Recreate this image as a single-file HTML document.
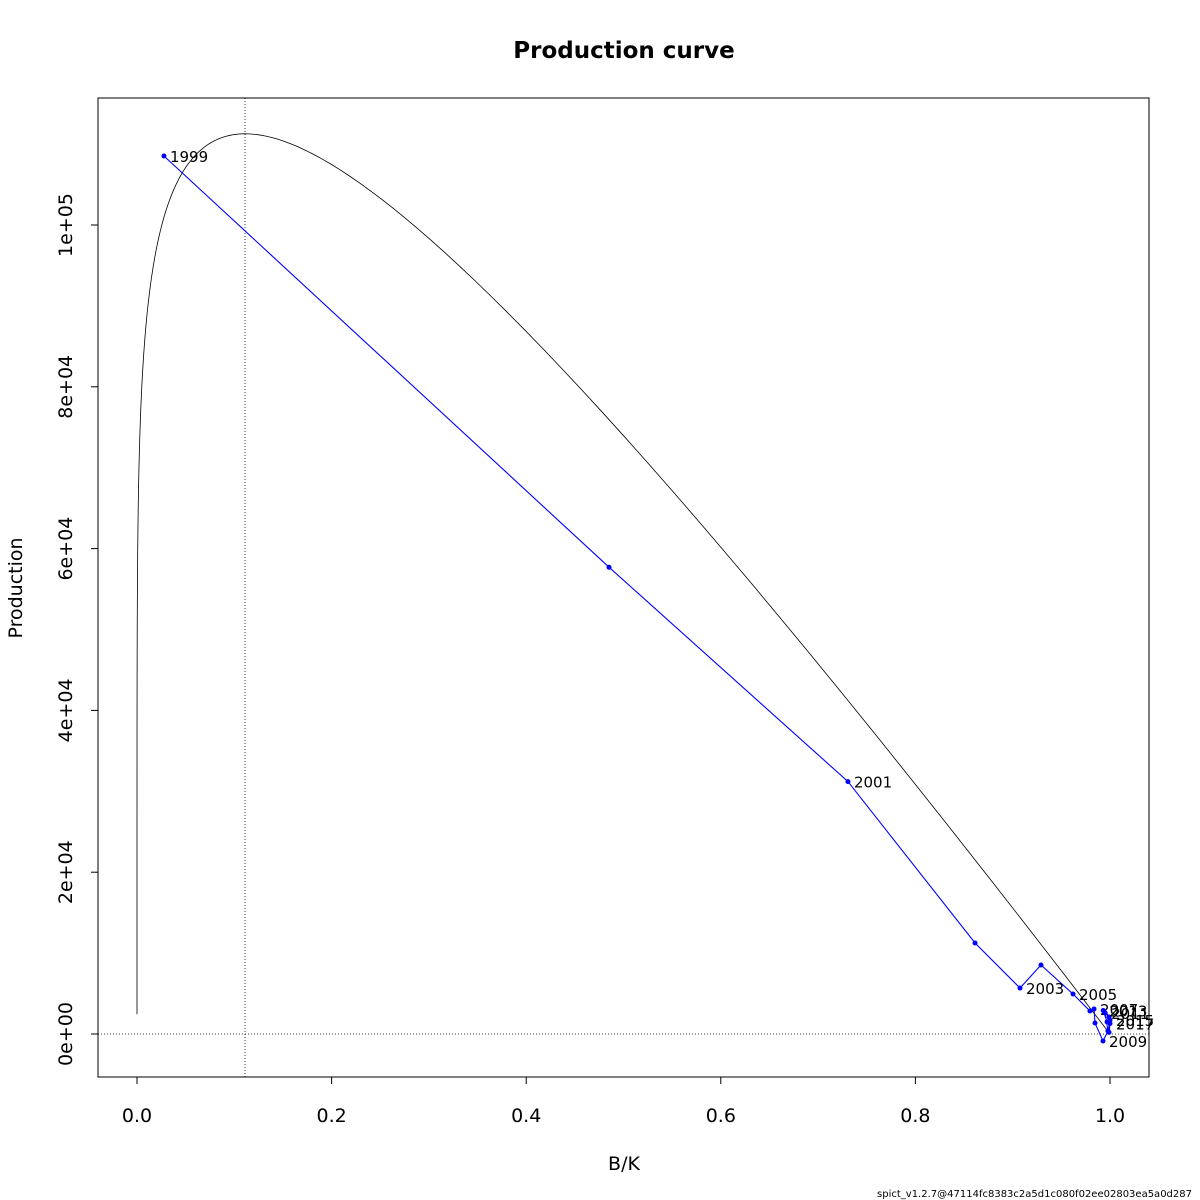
<!DOCTYPE html>
<html><head><meta charset="utf-8"><style>body{margin:0;background:#fff}svg{display:block;font-family:"DejaVu Sans","Liberation Sans",sans-serif}</style></head>
<body>
<svg id="c" width="1200" height="1200">
<text x="624" y="58" text-anchor="middle" font-size="23" font-weight="bold">Production curve</text>
<rect x="98" y="98" width="1051" height="979" fill="none" stroke="#000"/>
<text x="624" y="1170" text-anchor="middle" font-size="19">B/K</text>
<text transform="translate(22,588) rotate(-90)" text-anchor="middle" font-size="19">Production</text>
<text x="1192" y="1197" text-anchor="end" font-size="10">spict_v1.2.7@47114fc8383c2a5d1c080f02ee02803ea5a0d287</text>
<g id="g"></g>
</svg>
<script>
const xTicks=[0,0.2,0.4,0.6,0.8,1.0];
const xTickLabels=["0.0","0.2","0.4","0.6","0.8","1.0"];
const yTicks=[0,20000,40000,60000,80000,100000];
const yTickLabels=["0e+00","2e+04","4e+04","6e+04","8e+04","1e+05"];
const years=[1999,2000,2001,2002,2003,2004,2005,2006,2007,2008,2009,2010,2011,2012,2013,2014,2015,2016,2017,2018];
const bk=[0.0277,0.4851,0.7307,0.8613,0.9075,0.9291,0.9620,0.9794,0.9836,0.9846,0.9928,0.9979,0.995,0.999,0.993,0.997,1.0,0.998,1.0,0.999];
const prod=[108531,57700,31200,11250,5680,8530,4940,2840,3090,1360,-870,370,2600,2100,2900,1500,1700,400,1300,200];
const labelYears=[1999,2001,2003,2005,2007,2009,2011,2013,2015,2017];
const bmsyK=0.111, curveN=0.157, curveC=186350;
const X=v=>137+v*973, Y=v=>1034-v*809e-5;
const g=document.getElementById('g'),NS='http://www.w3.org/2000/svg';
function mk(t,a){const e=document.createElementNS(NS,t);for(const k in a)e.setAttribute(k,a[k]);g.appendChild(e);return e;}
xTicks.forEach((t,i)=>{const l=mk('line',{x1:X(t),x2:X(t),y1:1077,y2:1084,stroke:'#000'});


const s=mk('text',{x:X(t),y:1122,'text-anchor':'middle','font-size':19});s.textContent=xTickLabels[i];

});
yTicks.forEach((t,i)=>{const l=mk('line',{x1:91,x2:98,y1:Y(t),y2:Y(t),stroke:'#000'});


const s=mk('text',{transform:`translate(72,${Y(t)}) rotate(-90)`,'text-anchor':'middle','font-size':19});s.textContent=yTickLabels[i];

});
let h=mk('line',{x1:98,x2:1149,y1:Y(0),y2:Y(0),stroke:'#000','stroke-dasharray':'1,2','stroke-width':0.8});


let v=mk('line',{x1:X(bmsyK),x2:X(bmsyK),y1:98,y2:1077,stroke:'#000','stroke-dasharray':'1,2','stroke-width':0.8});


let pts=[];for(let i=0;i<=400;i++){const x=i===0?1e-12:Math.pow(10,-8+8*i/400);pts.push([x,curveC*(Math.pow(x,curveN)-x)]);}
let c=mk('path',{d:'M'+pts.map(p=>X(p[0]).toFixed(2)+','+Y(p[1]).toFixed(2)).join('L'),fill:'none',stroke:'#000','stroke-width':0.8});


let p=mk('path',{d:'M'+bk.map((b,i)=>X(b).toFixed(2)+','+Y(prod[i]).toFixed(2)).join('L'),fill:'none',stroke:'#00f','stroke-width':1.1});


bk.forEach((b,i)=>{const d=mk('circle',{cx:X(b),cy:Y(prod[i]),r:2.5,fill:'#00f'});


if(labelYears.includes(years[i])){const t=mk('text',{x:X(b)+6,y:Y(prod[i])+6,'font-size':15});t.textContent=years[i];

}});
</script>
</body></html>
